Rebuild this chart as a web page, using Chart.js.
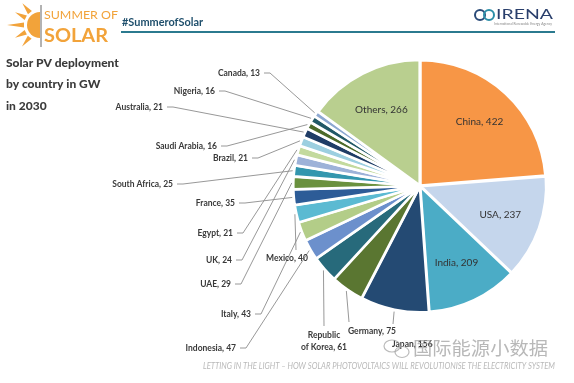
<!DOCTYPE html>
<html>
<head>
<meta charset="utf-8">
<script src="https://cdn.jsdelivr.net/npm/chart.js@4"></script>
<style>
html, body { margin: 0; padding: 0; background: #fff; overflow: hidden; }
canvas { display: block; }
</style>
</head>
<body>
<canvas id="chart1" width="574" height="383"></canvas>
<script>
// data, clockwise from 12 o'clock
var countries = ["China", "USA", "India", "Japan", "Germany", "Republic of Korea", "Indonesia", "Italy", "Mexico", "France",
	"UAE", "South Africa", "UK", "Egypt", "Brazil", "Australia", "Saudi Arabia", "Nigeria", "Canada", "Others"];
var gigawatts = [422, 237, 209, 156, 75, 61, 47, 43, 40, 35, 29, 25, 24, 21, 21, 21, 16, 16, 13, 266];
var sliceColors = ["#F79646", "#C5D6EC", "#4BACC6", "#244A73", "#5A7631", "#276A7B", "#6C90CC", "#B3CD88", "#5BBAD2", "#2D5C97",
	"#6A913E", "#3396AE", "#9DB2D8", "#C3DA9E", "#9CCFE0", "#1F3D66", "#4C6A2A", "#215867", "#8DA8D1", "#B9CF8F"];

var titleLines = ["Solar PV deployment", "by country in GW", "in 2030"];
var footerText = "LETTING IN THE LIGHT \u2013 HOW SOLAR PHOTOVOLTAICS WILL REVOLUTIONISE THE ELECTRICITY SYSTEM";

// labels drawn inside a slice (fraction of radius)
var insideLabels = { "China": 0.7, "USA": 0.68, "India": 0.68, "Others": 0.68 };
// labels outside: x, y, align, [line start x, line start y]
var outsideLabels = {
	"Canada": [260, 73, "right"],
	"Nigeria": [215, 91, "right"],
	"Australia": [163, 107, "right"],
	"Saudi Arabia": [217, 146, "right"],
	"Brazil": [248, 158, "right"],
	"South Africa": [173, 184, "right"],
	"France": [235, 203, "right"],
	"Egypt": [233, 233, "right"],
	"UK": [232, 260, "right"],
	"UAE": [231, 284, "right"],
	"Mexico": [287, 258, "center", 296, 250],
	"Italy": [251, 314, "right"],
	"Indonesia": [236, 348, "right"],
	"Republic of Korea": [324, 335, "wrap", 324, 326],
	"Germany": [348, 331, "left", 349, 322],
	"Japan": [392, 344, "left", 393, 324]
};

function fitText(ctx, text, x, y, w) {
	var m = ctx.measureText(text).width;
	ctx.save();
	ctx.translate(x, y);
	ctx.scale(w / m, 1);
	ctx.fillText(text, 0, 0);
	ctx.restore();
}

var labelPlugin = {
	id: "labels",
	afterDatasetsDraw: function (chart) {
		var ctx = chart.ctx;
		var arcs = chart.getDatasetMeta(0).data;
		ctx.save();
		ctx.textBaseline = "middle";
		arcs.forEach(function (arc, i) {
			var name = countries[i];
			var mid = (arc.startAngle + arc.endAngle) / 2;
			var text = name + ", " + gigawatts[i];
			if (insideLabels[name]) {
				var r = arc.outerRadius * insideLabels[name];
				ctx.font = "10px Lato";
				ctx.fillStyle = "#333";
				ctx.textAlign = "center";
				ctx.fillText(text, arc.x + Math.cos(mid) * r, arc.y + Math.sin(mid) * r);
				return;
			}
			var p = outsideLabels[name];
			if (!p) return;
			var ex = arc.x + Math.cos(mid) * (arc.outerRadius + 3);
			var ey = arc.y + Math.sin(mid) * (arc.outerRadius + 3);
			ctx.strokeStyle = "#8c8c8c";
			ctx.lineWidth = 0.9;
			ctx.beginPath();
			if (p[2] == "right") {
				ctx.moveTo(p[0] + 4, p[1]);
				ctx.lineTo(p[0] + 10, p[1]);
			} else {
				ctx.moveTo(p[3], p[4]);
			}
			ctx.lineTo(ex, ey);
			ctx.stroke();
			ctx.font = "bold 8.5px Lato";
			ctx.fillStyle = "#3a3a3a";
			if (p[2] == "wrap") {
				var words = name.split(" ");
				ctx.textAlign = "center";
				ctx.fillText(words[0], p[0], p[1]);
				ctx.fillText(words.slice(1).join(" ") + ", " + gigawatts[i], p[0], p[1] + 12);
			} else {
				ctx.textAlign = p[2];
				ctx.fillText(text, p[0], p[1]);
			}
		});
		ctx.restore();
	},
	afterDraw: function (chart) {
		var ctx = chart.ctx;
		ctx.save();
		ctx.textBaseline = "middle";
		ctx.textAlign = "left";

		// sun logo
		ctx.fillStyle = "#F2A33A";
		ctx.beginPath();
		ctx.arc(40, 25, 13, Math.PI / 2, Math.PI * 1.5);
		ctx.fill();
		[[231, 28], [207, 28], [180, 33], [153, 28], [130, 28]].forEach(function (ray) {
			var a = ray[0] * Math.PI / 180;
			var c = Math.cos(a), s = Math.sin(a);
			ctx.beginPath();
			ctx.moveTo(40 + c * 16 - s * 2.5, 25 + s * 16 + c * 2.5);
			ctx.lineTo(40 + c * ray[1], 25 + s * ray[1]);
			ctx.lineTo(40 + c * 16 + s * 2.5, 25 + s * 16 - c * 2.5);
			ctx.fill();
		});
		ctx.fillStyle = "#fff";
		ctx.fillRect(40, 5, 4, 42);
		ctx.strokeStyle = "#666";
		ctx.lineWidth = 1;
		ctx.beginPath();
		ctx.moveTo(41, 5);
		ctx.lineTo(41, 47);
		ctx.stroke();
		ctx.fillStyle = "#F2A33A";
		ctx.font = "11px Lato";
		fitText(ctx, "SUMMER OF", 44, 15, 74);
		ctx.font = "bold 19px Lato";
		fitText(ctx, "SOLAR", 44, 36, 64);

		// hashtag and rule
		ctx.fillStyle = "#1F4F6C";
		ctx.font = "bold 11px Lato";
		fitText(ctx, "#SummerofSolar", 122, 22, 81);
		ctx.strokeStyle = "#2B7A8F";
		ctx.lineWidth = 2;
		ctx.beginPath();
		ctx.moveTo(121, 32);
		ctx.lineTo(555, 32);
		ctx.stroke();

		// IRENA logo
		ctx.lineWidth = 2;
		ctx.strokeStyle = "#2A4A78";
		ctx.beginPath();
		ctx.arc(480, 15, 5, 0, Math.PI * 2);
		ctx.stroke();
		ctx.strokeStyle = "#2C8FA8";
		ctx.beginPath();
		ctx.arc(489, 15, 5, 0, Math.PI * 2);
		ctx.stroke();
		ctx.fillStyle = "#2A3F6C";
		ctx.font = "13px Lato";
		fitText(ctx, "IRENA", 496, 15, 57);
		ctx.fillStyle = "#888";
		ctx.font = "4px Lato";
		fitText(ctx, "International Renewable Energy Agency", 494, 24, 58);

		// title
		ctx.fillStyle = "#3b3b3b";
		ctx.font = "900 12px Lato";
		titleLines.forEach(function (t, i) {
			ctx.fillText(t, 6, 63 + i * 21.5);
		});

		// footer
		ctx.fillStyle = "#b9b9b9";
		ctx.font = "italic 9px Lato";
		fitText(ctx, footerText, 203, 366, 352);

		// watermark
		ctx.strokeStyle = "rgba(170,170,170,0.8)";
		ctx.lineWidth = 1.2;
		ctx.beginPath();
		ctx.ellipse(392, 346, 8, 6, 0, 0, Math.PI * 2);
		ctx.stroke();
		ctx.beginPath();
		ctx.ellipse(402, 352, 7, 5.5, 0, 0, Math.PI * 2);
		ctx.stroke();
		ctx.fillStyle = "rgba(160,160,160,0.75)";
		ctx.font = "18px 'Noto Sans CJK SC'";
		fitText(ctx, "国际能源小数据", 413, 348, 135);
		ctx.restore();
	}
};

var ctx = document.getElementById("chart1").getContext("2d");
var chartdata = {
	type: "pie",
	data: {
		labels: countries,
		datasets: [
			{
				data: gigawatts,
				backgroundColor: sliceColors,
				borderColor: "#fff",
				borderWidth: 2.5,
				offset: 3
			}
		]
	},
	options: {
		responsive: false,
		animation: false,
		layout: { padding: { left: 292, right: 26, top: 58, bottom: 69 } },
		plugins: { legend: { display: false }, tooltip: { enabled: false } }
	},
	plugins: [labelPlugin]
};
new Chart(ctx, chartdata);
</script>
</body>
</html>
